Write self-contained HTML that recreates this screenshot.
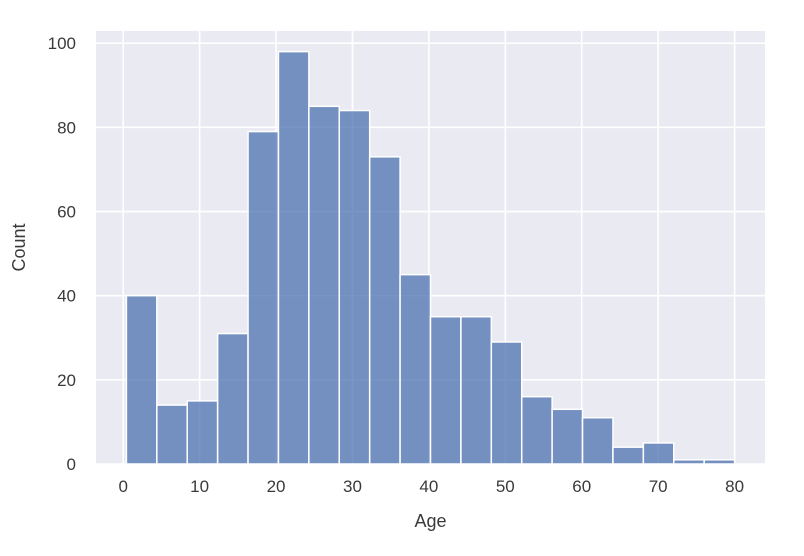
<!DOCTYPE html>
<html><head><meta charset="utf-8"><style>
body{margin:0;background:#fff;}
svg{display:block;font-family:"Liberation Sans",Arial,sans-serif;}
</style></head><body>
<svg id="chart" width="804" height="556"></svg>
<script>
const binStart = 0.42;
const binWidth = 3.979;
const counts = [40,14,15,31,79,98,85,84,73,45,35,35,29,16,13,11,4,5,1,1];
const xTicks = [0,10,20,30,40,50,60,70,80];
const yTicks = [0,20,40,60,80,100];
const xAxisLabel = "Age";
const yAxisLabel = "Count";

const ns = "http://www.w3.org/2000/svg";
const svg = document.getElementById('chart');
const L=96,R=765,T=31,B=464;
const x0=-3.56,x1=83.98,y0=0,y1=102.9;
const sx=v=>L+(v-x0)/(x1-x0)*(R-L);
const sy=v=>B-(v-y0)/(y1-y0)*(B-T);
function mk(tag,attrs){const e=document.createElementNS(ns,tag);for(const k in attrs)e.setAttribute(k,attrs[k]);svg.appendChild(e);return e;}

const bg=mk('rect',{x:L,y:T,width:R-L,height:B-T,fill:'#eaeaf2'});



xTicks.forEach(t=>{
  const g=mk('line',{x1:sx(t),x2:sx(t),y1:T,y2:B,stroke:'#fff','stroke-width':1.6});
  
  
  const tx=mk('text',{x:sx(t),y:B+28,'text-anchor':'middle','font-size':17,fill:'#3a3a3a'});
  tx.textContent=t;
  
  
});
yTicks.forEach(t=>{
  const g=mk('line',{x1:L,x2:R,y1:sy(t),y2:sy(t),stroke:'#fff','stroke-width':1.6});
  
  
  const tx=mk('text',{x:L-20,y:sy(t)+6,'text-anchor':'end','font-size':17,fill:'#3a3a3a'});
  tx.textContent=t;
  
  
});

counts.forEach((c,i)=>{
  const a=binStart+i*binWidth,b=a+binWidth;
  const r=mk('rect',{x:sx(a),y:sy(c),width:sx(b)-sx(a),height:sy(0)-sy(c),fill:'#4c72b0','fill-opacity':0.75,stroke:'#fff','stroke-width':1.5});
  
  
});

const xl=mk('text',{x:(L+R)/2,y:527,'text-anchor':'middle','font-size':18,fill:'#3a3a3a'});
xl.textContent=xAxisLabel;


const yl=mk('text',{x:25,y:(T+B)/2,'text-anchor':'middle','font-size':18,fill:'#3a3a3a',transform:`rotate(-90 25 ${(T+B)/2})`});
yl.textContent=yAxisLabel;


</script>
</body></html>
